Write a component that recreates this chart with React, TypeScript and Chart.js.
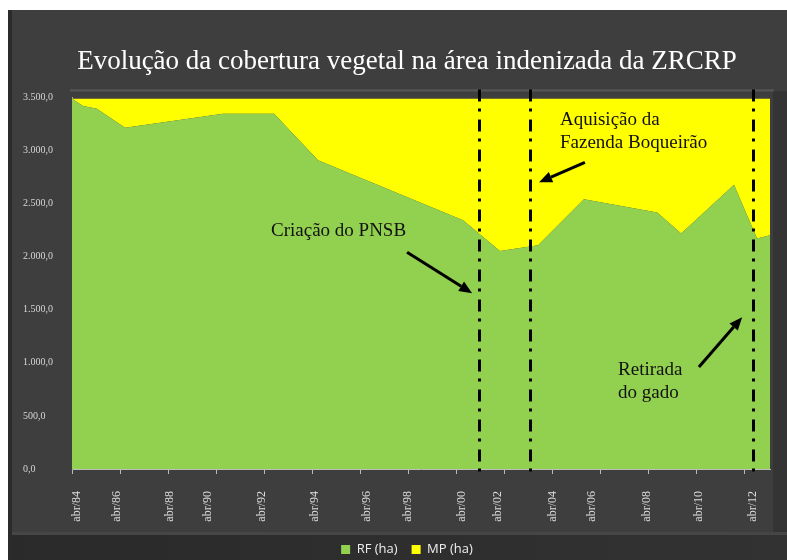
import React, { useEffect, useRef } from 'react';
import { Chart, registerables } from 'chart.js';

Chart.register(...registerables);

// Image dates (decimal years) and areas in hectares
const dates = [1984.25, 1984.71, 1985.29, 1986.46, 1990.54, 1992.67, 1994.5, 2000.54, 2002.08, 2003.67, 2005.58, 2008.63, 2009.63, 2011.83, 2012.79, 2013.33];
const rfValues = [3487, 3418, 3393, 3215, 3346, 3346, 2907, 2342, 2054, 2107, 2540, 2415, 2217, 2678, 2170, 2201];
const mpValues = [0, 69, 94, 272, 141, 141, 580, 1145, 1433, 1380, 947, 1072, 1270, 809, 1317, 1286];

// Axis ticks
const tickMarkYears = [1984.25, 1986.25, 1988.25, 1990.25, 1992.25, 1994.25, 1996.25, 1998.25, 2000.25, 2002.25, 2004.25, 2006.25, 2008.25, 2010.25, 2012.25];
const labelYears = [1984.46, 1986.12, 1988.33, 1989.92, 1992.17, 1994.37, 1996.54, 1998.25, 2000.5, 2002.0, 2004.29, 2005.92, 2008.21, 2010.37, 2012.62];
const labelTexts = ['abr/84', 'abr/86', 'abr/88', 'abr/90', 'abr/92', 'abr/94', 'abr/96', 'abr/98', 'abr/00', 'abr/02', 'abr/04', 'abr/06', 'abr/08', 'abr/10', 'abr/12'];
const yTickValues = [0, 500, 1000, 1500, 2000, 2500, 3000, 3500];

// Events (vertical dash-dot lines)
const eventYears = [2001.21, 2003.32, 2012.64];

// Annotations (data coordinates: year, hectares)
const noteLines = [['Criação do PNSB'], ['Aquisição da', 'Fazenda Boqueirão'], ['Retirada', 'do gado']];
const noteAnchors = [[1992.54, 2192], [2004.58, 3236], [2007.0, 884]];
const arrowFrom = [[1998.21, 2042], [2005.62, 2888], [2010.37, 960]];
const arrowTo = [[2000.92, 1656], [2003.71, 2700], [2012.17, 1430]];

const key = (v: number) => v.toFixed(3);
const labelMap = new Map<string, string>();
labelYears.forEach((v, i) => labelMap.set(key(v), labelTexts[i]));
const tickMarkSet = new Set(tickMarkYears.map(key));

const fmt = (v: number) => {
  const s = Math.round(v).toString().replace(/\B(?=(\d{3})+(?!\d))/g, '.');
  return s + ',0';
};

const backgroundPlugin = {
  id: 'bg',
  beforeDraw(chart: any) {
    const { ctx, width, height } = chart;
    ctx.save();
    ctx.fillStyle = '#ffffff';
    ctx.fillRect(0, 0, width, height);
    ctx.fillStyle = '#3e3e3e';
    ctx.fillRect(8, 10, width - 8, height - 10);
    const g = ctx.createLinearGradient(8, 0, width, 0);
    g.addColorStop(0, '#2a2a2a');
    g.addColorStop(1, '#323232');
    ctx.fillStyle = g;
    ctx.fillRect(8, 535, width - 8, height - 535);
    ctx.fillStyle = '#464646';
    ctx.fillRect(8, 532, width - 8, 3);
    ctx.fillStyle = '#2b2b2b';
    ctx.fillRect(8, 10, 4, height - 10);
    const ca = chart.chartArea;
    ctx.fillStyle = '#585858';
    ctx.fillRect(ca.left - 2, ca.top - 8, ca.right - ca.left + 6, 2);
    ctx.fillStyle = '#343434';
    ctx.fillRect(ca.right + 3, ca.top - 6, width - ca.right - 3, 532 - ca.top + 6);
    ctx.restore();
  },
};

const overlayPlugin = {
  id: 'overlay',
  afterDatasetsDraw(chart: any) {
    const { ctx, chartArea } = chart;
    const xs = chart.scales.x;
    const ys = chart.scales.y;
    ctx.save();
    // dash-dot event lines
    ctx.strokeStyle = '#000';
    ctx.lineWidth = 3;
    ctx.setLineDash([12, 7, 3, 8]);
    eventYears.forEach((v) => {
      const px = Math.round(xs.getPixelForValue(v)) + 0.5;
      ctx.beginPath();
      ctx.moveTo(px, chartArea.top - 8);
      ctx.lineTo(px, chartArea.bottom + 7);
      ctx.stroke();
    });
    ctx.setLineDash([]);
    // arrows
    ctx.fillStyle = '#000';
    arrowFrom.forEach((f, i) => {
      const t = arrowTo[i];
      const x1 = xs.getPixelForValue(f[0]);
      const y1 = ys.getPixelForValue(f[1]);
      const x2 = xs.getPixelForValue(t[0]);
      const y2 = ys.getPixelForValue(t[1]);
      const ang = Math.atan2(y2 - y1, x2 - x1);
      const hl = 13;
      const hw = 5.5;
      const bx = x2 - hl * Math.cos(ang);
      const by = y2 - hl * Math.sin(ang);
      ctx.lineWidth = 3;
      ctx.beginPath();
      ctx.moveTo(x1, y1);
      ctx.lineTo(bx, by);
      ctx.stroke();
      ctx.beginPath();
      ctx.moveTo(x2, y2);
      ctx.lineTo(bx + hw * Math.sin(ang), by - hw * Math.cos(ang));
      ctx.lineTo(bx - hw * Math.sin(ang), by + hw * Math.cos(ang));
      ctx.closePath();
      ctx.fill();
    });
    // notes
    ctx.font = '19px "Liberation Serif", "Times New Roman", serif';
    ctx.textAlign = 'left';
    ctx.textBaseline = 'alphabetic';
    ctx.fillStyle = '#111';
    noteLines.forEach((lines, i) => {
      const px = xs.getPixelForValue(noteAnchors[i][0]);
      const py = ys.getPixelForValue(noteAnchors[i][1]);
      lines.forEach((ln, j) => ctx.fillText(ln, px, py + j * 23));
    });
    ctx.restore();
  },
};

export default function App() {
  const ref = useRef<HTMLCanvasElement | null>(null);

  useEffect(() => {
    document.body.style.margin = '0';
    const canvas = ref.current;
    if (!canvas) return;
    const chart = new Chart(canvas, {
      type: 'line',
      data: {
        datasets: [
          {
            label: 'RF (ha)',
            data: dates.map((d, i) => ({ x: d, y: rfValues[i] })),
            backgroundColor: '#92d050',
            borderColor: '#92d050',
            borderWidth: 0,
            pointRadius: 0,
            fill: 'origin',
            tension: 0,
          },
          {
            label: 'MP (ha)',
            data: dates.map((d, i) => ({ x: d, y: mpValues[i] })),
            backgroundColor: '#ffff00',
            borderColor: '#ffff00',
            borderWidth: 0,
            pointRadius: 0,
            fill: '-1',
            tension: 0,
          },
        ],
      },
      options: {
        responsive: false,
        animation: false,
        devicePixelRatio: 1,
        layout: { padding: { top: 10, left: 44, right: 17, bottom: -6 } },
        plugins: {
          title: {
            display: true,
            text: 'Evolução da cobertura vegetal na área indenizada da ZRCRP',
            color: '#ffffff',
            font: { family: '"Liberation Serif", "Times New Roman", serif', size: 27, weight: 'normal' },
            padding: { top: 36, bottom: 19 },
          },
          legend: {
            position: 'bottom',
            labels: {
              color: '#eeeeee',
              boxWidth: 9,
              boxHeight: 9,
              padding: 14,
              font: { family: '"Open Sans", "DejaVu Sans", sans-serif', size: 13 },
            },
          },
          tooltip: { enabled: false },
        },
        scales: {
          x: {
            type: 'linear',
            min: 1984.25,
            max: 2013.33,
            afterBuildTicks: (scale: any) => {
              const vals = new Map<string, number>();
              tickMarkYears.forEach((v) => vals.set(key(v), v));
              labelYears.forEach((v) => vals.set(key(v), v));
              scale.ticks = Array.from(vals.values())
                .sort((a, b) => a - b)
                .map((v) => ({ value: v }));
            },
            afterFit: (scale: any) => {
              scale.height = 60;
            },
            ticks: {
              autoSkip: false,
              maxRotation: 90,
              minRotation: 90,
              padding: 17,
              color: '#dddddd',
              font: { family: '"Liberation Serif", "Times New Roman", serif', size: 12 },
              callback: (v: any) => labelMap.get(key(Number(v))) || '',
            },
            grid: {
              drawOnChartArea: false,
              drawTicks: true,
              tickLength: 5,
              color: 'transparent',
              tickColor: (ctx: any) => (ctx.tick && tickMarkSet.has(key(ctx.tick.value)) ? '#bdbdbd' : 'transparent'),
              tickWidth: 1,
            },
            border: { display: true, color: '#bdbdbd', width: 1 },
          },
          y: {
            stacked: true,
            min: 0,
            max: 3500,
            afterBuildTicks: (scale: any) => {
              scale.ticks = yTickValues.map((v) => ({ value: v }));
            },
            afterFit: (scale: any) => {
              scale.width = 28;
            },
            ticks: {
              mirror: true,
              padding: -49,
              color: '#d6d6d6',
              font: { family: '"Liberation Serif", "Times New Roman", serif', size: 10 },
              callback: (v: any) => fmt(Number(v)),
            },
            grid: { display: false, drawTicks: false },
            border: { display: true, color: '#9a9a9a', width: 1 },
          },
        },
      },
      plugins: [backgroundPlugin, overlayPlugin],
    } as any);
    return () => chart.destroy();
  }, []);

  return (
    <div style={{ width: 787, height: 560 }}>
      <canvas ref={ref} width={787} height={560} style={{ display: 'block' }} />
    </div>
  );
}
